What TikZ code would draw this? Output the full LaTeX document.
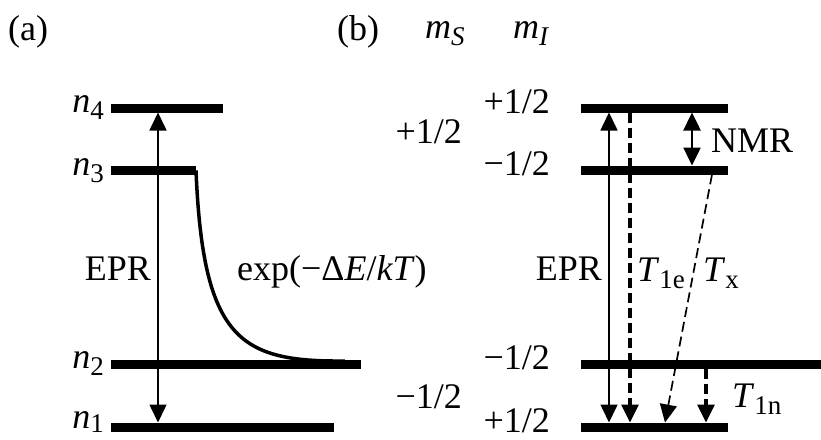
\documentclass[tikz,border=0pt]{standalone}
\usepackage{fontspec}
\setmainfont{Liberation Serif}
\usetikzlibrary{arrows.meta}
\newcommand{\sbs}[1]{\raisebox{-7pt}{\fontsize{27}{27}\selectfont #1}}
\newcommand{\sbsh}[1]{\raisebox{-4pt}{\fontsize{27}{27}\selectfont #1}}
\begin{document}
\begin{tikzpicture}[x=1pt,y=-1pt,
  lvl/.style={line width=9pt},
  lab/.style={inner sep=0pt, font=\fontsize{36}{40}\selectfont},
  tipE/.style={-{Triangle[length=18pt,width=17pt]}},
  tipB/.style={{Triangle[length=18pt,width=17pt]}-{Triangle[length=18pt,width=17pt]}},
  thinline/.style={line width=1.6pt},
  thickdash/.style={line width=3.2pt, dash pattern=on 10pt off 5pt},
  thindash/.style={line width=1.7pt, dash pattern=on 10pt off 5pt}]
\useasboundingbox (0,0) rectangle (821,439);
% ---------- (a) ----------
\coordinate (a4l) at (111,108);   \coordinate (a4r) at (223,108);
\coordinate (a3l) at (111,170.5); \coordinate (a3r) at (196,170.5);
\coordinate (a2l) at (111,364);   \coordinate (a2r) at (361,364);
\coordinate (a1l) at (111,427);   \coordinate (a1r) at (334,427);
\draw[lvl] (a4l) -- (a4r);
\draw[lvl] (a3l) -- (a3r);
\draw[lvl] (a2l) -- (a2r);
\draw[lvl] (a1l) -- (a1r);
\coordinate (ea1) at (158,422.5); \coordinate (ea4) at (158,112.5);
\draw[thinline, tipB] (ea1) -- (ea4);
\coordinate (cend) at (345,361);
\draw[line width=3.5pt] (a3r) .. controls (203,340) and (240,362) .. (cend);
\node[lab, anchor=base west] (la) at (8,40) {(a)};
\node[lab, anchor=base east] (n4) at (104,112) {\textit{n}\sbs{4}};
\node[lab, anchor=base east] (n3) at (104,175) {\textit{n}\sbs{3}};
\node[lab, anchor=base east] (n2) at (104,368) {\textit{n}\sbs{2}};
\node[lab, anchor=base east] (n1) at (104,428) {\textit{n}\sbsh{1}};
\node[lab, anchor=base east] (eprA) at (151,280) {EPR};
\node[lab, anchor=base west] (expl) at (237,280) {exp(−Δ\textit{E}/\textit{kT})};
% ---------- (b) ----------
\node[lab, anchor=base west] (lb) at (337,40) {(b)};
\node[lab, anchor=base west] (mS) at (425,38) {\textit{m}\sbs{\textit{S}}};
\node[lab, anchor=base west] (mI) at (513,38) {\textit{m}\sbs{\textit{I}}};
\coordinate (b4l) at (581,108); \coordinate (b4r) at (728,108);
\coordinate (b3l) at (581,170); \coordinate (b3r) at (728,170);
\coordinate (b2l) at (581,364); \coordinate (b2r) at (821,364);
\coordinate (b1l) at (581,427); \coordinate (b1r) at (728,427);
\draw[lvl] (b4l) -- (b4r);
\draw[lvl] (b3l) -- (b3r);
\draw[lvl] (b2l) -- (b2r);
\draw[lvl] (b1l) -- (b1r);
\node[lab, anchor=base east] (i4) at (550,113) {+1/2};
\node[lab, anchor=base east] (i3) at (550,175) {−1/2};
\node[lab, anchor=base east] (i2) at (550,369) {−1/2};
\node[lab, anchor=base east] (i1) at (550,432) {+1/2};
\node[lab, anchor=base east] (s1) at (462,143) {+1/2};
\node[lab, anchor=base east] (s2) at (462,408) {−1/2};
% EPR
\coordinate (eb1) at (609,422.5); \coordinate (eb4) at (609,112.5);
\draw[thinline, tipB] (eb1) -- (eb4);
\node[lab, anchor=base east] (eprB) at (602,280) {EPR};
% T1e
\coordinate (te4) at (630,112.5); \coordinate (te1) at (630,422.5);
\draw[thickdash, tipE] (te4) -- (te1);
\node[lab, anchor=base west] (lte) at (637,281) {\textit{T}\sbs{1e}};
% Tx
\coordinate (tx3) at (712,174.5); \coordinate (tx1) at (665,422.5);
\draw[thindash, tipE] (tx3) -- (tx1);
\node[lab, anchor=base west] (ltx) at (703,281) {\textit{T}\sbs{x}};
% NMR
\coordinate (nm4) at (692,112.5); \coordinate (nm3) at (692,165.5);
\draw[line width=2.5pt, tipB] (nm3) -- (nm4);
\node[lab, anchor=base west] (lnmr) at (711,152) {NMR};
% T1n
\coordinate (tn2) at (706,368.5); \coordinate (tn1) at (706,422.5);
\draw[thickdash, tipE] (tn2) -- (tn1);
\node[lab, anchor=base west] (ltn) at (732,407) {\textit{T}\sbs{1n}};
\end{tikzpicture}
\end{document}
